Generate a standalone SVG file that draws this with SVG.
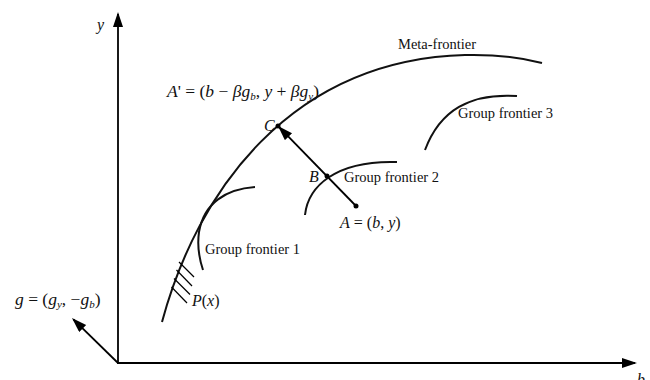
<svg xmlns="http://www.w3.org/2000/svg" width="650" height="380" viewBox="0 0 650 380">
<defs>
<marker id="ah" markerUnits="userSpaceOnUse" markerWidth="16" markerHeight="12" refX="13" refY="5" orient="auto">
<path d="M0,0 L15,5 L0,10 z" fill="#000"/>
</marker>
<style>
.ln{stroke:#000;stroke-width:1.8;fill:none}
.cv{stroke:#111;stroke-width:2;fill:none}
.h{stroke:#000;stroke-width:1.2;fill:none}
.t{font-family:"Liberation Serif","Times New Roman",serif;font-size:14.5px;fill:#111}
.m{font-family:"Liberation Serif","Times New Roman",serif;font-size:16px;fill:#111;font-style:italic}
.big{font-size:17.5px}
.u{font-style:normal}
.s{font-size:11px}
</style>
</defs>
<rect width="650" height="380" fill="#fff"/>
<g id="connectors">
<line class="ln" x1="118" y1="364" x2="118" y2="14" marker-end="url(#ah)"/>
<line class="ln" x1="117" y1="363" x2="635" y2="363" marker-end="url(#ah)"/>
<line class="ln" x1="118" y1="363" x2="73.4" y2="319.4" marker-end="url(#ah)"/>
<line class="ln" x1="356" y1="206" x2="279.4" y2="127.4" marker-end="url(#ah)"/>
</g>
<g id="meta-frontier">
<path class="cv" d="M162,322 C197,192 290,60 465,55 Q508,54 542,63"/>
<text class="t" x="398" y="49">Meta-frontier</text>
</g>
<g id="group-frontier-1">
<path class="cv" d="M255,187 C226,189 204,203 199,232 C197,246 199,258 203,270"/>
<text class="t" x="205" y="254">Group frontier 1</text>
</g>
<g id="group-frontier-2">
<path class="cv" d="M305,215 C308,187 335,160 397,162"/>
<text class="t" x="344" y="182">Group frontier 2</text>
</g>
<g id="group-frontier-3">
<path class="cv" d="M425,150 C440,110 470,93 517,96"/>
<text class="t" x="458" y="118">Group frontier 3</text>
</g>
<g id="hatch">
<line class="h" x1="179" y1="262" x2="194" y2="277"/>
<line class="h" x1="176.5" y1="270" x2="192" y2="286"/>
<line class="h" x1="174" y1="278.5" x2="190" y2="294.5"/>
<line class="h" x1="171.5" y1="287" x2="187" y2="303"/>
<text class="m" x="192" y="306">P<tspan class="u">(</tspan>x<tspan class="u">)</tspan></text>
</g>
<g id="point-A">
<circle cx="356" cy="206" r="2.5" fill="#000"/>
<text class="m" x="340" y="228">A<tspan class="u"> = (</tspan>b<tspan class="u">, </tspan>y<tspan class="u">)</tspan></text>
</g>
<g id="point-B">
<circle cx="327" cy="176" r="2.5" fill="#000"/>
<text class="m" x="309" y="182">B</text>
</g>
<g id="point-C">
<circle cx="278" cy="126" r="2.5" fill="#000"/>
<text class="m" x="264" y="131">C</text>
</g>
<g id="label-A-prime">
<text class="m big" x="167" y="97">A<tspan class="u">' = (</tspan>b<tspan class="u"> − </tspan>βg<tspan class="s" dy="3">b</tspan><tspan class="u" dy="-3">, </tspan>y<tspan class="u"> + </tspan>βg<tspan class="s" dy="3">y</tspan><tspan class="u" dy="-3">)</tspan></text>
</g>
<g id="label-g">
<text class="m big" x="15" y="305">g<tspan class="u"> = (</tspan>g<tspan class="s" dy="3">y</tspan><tspan class="u" dy="-3">, −</tspan>g<tspan class="s" dy="3">b</tspan><tspan class="u" dy="-3">)</tspan></text>
</g>
<g id="axis-labels">
<text class="m" x="97" y="30">y</text>
<text class="m" x="637" y="385">b</text>
</g>
</svg>
